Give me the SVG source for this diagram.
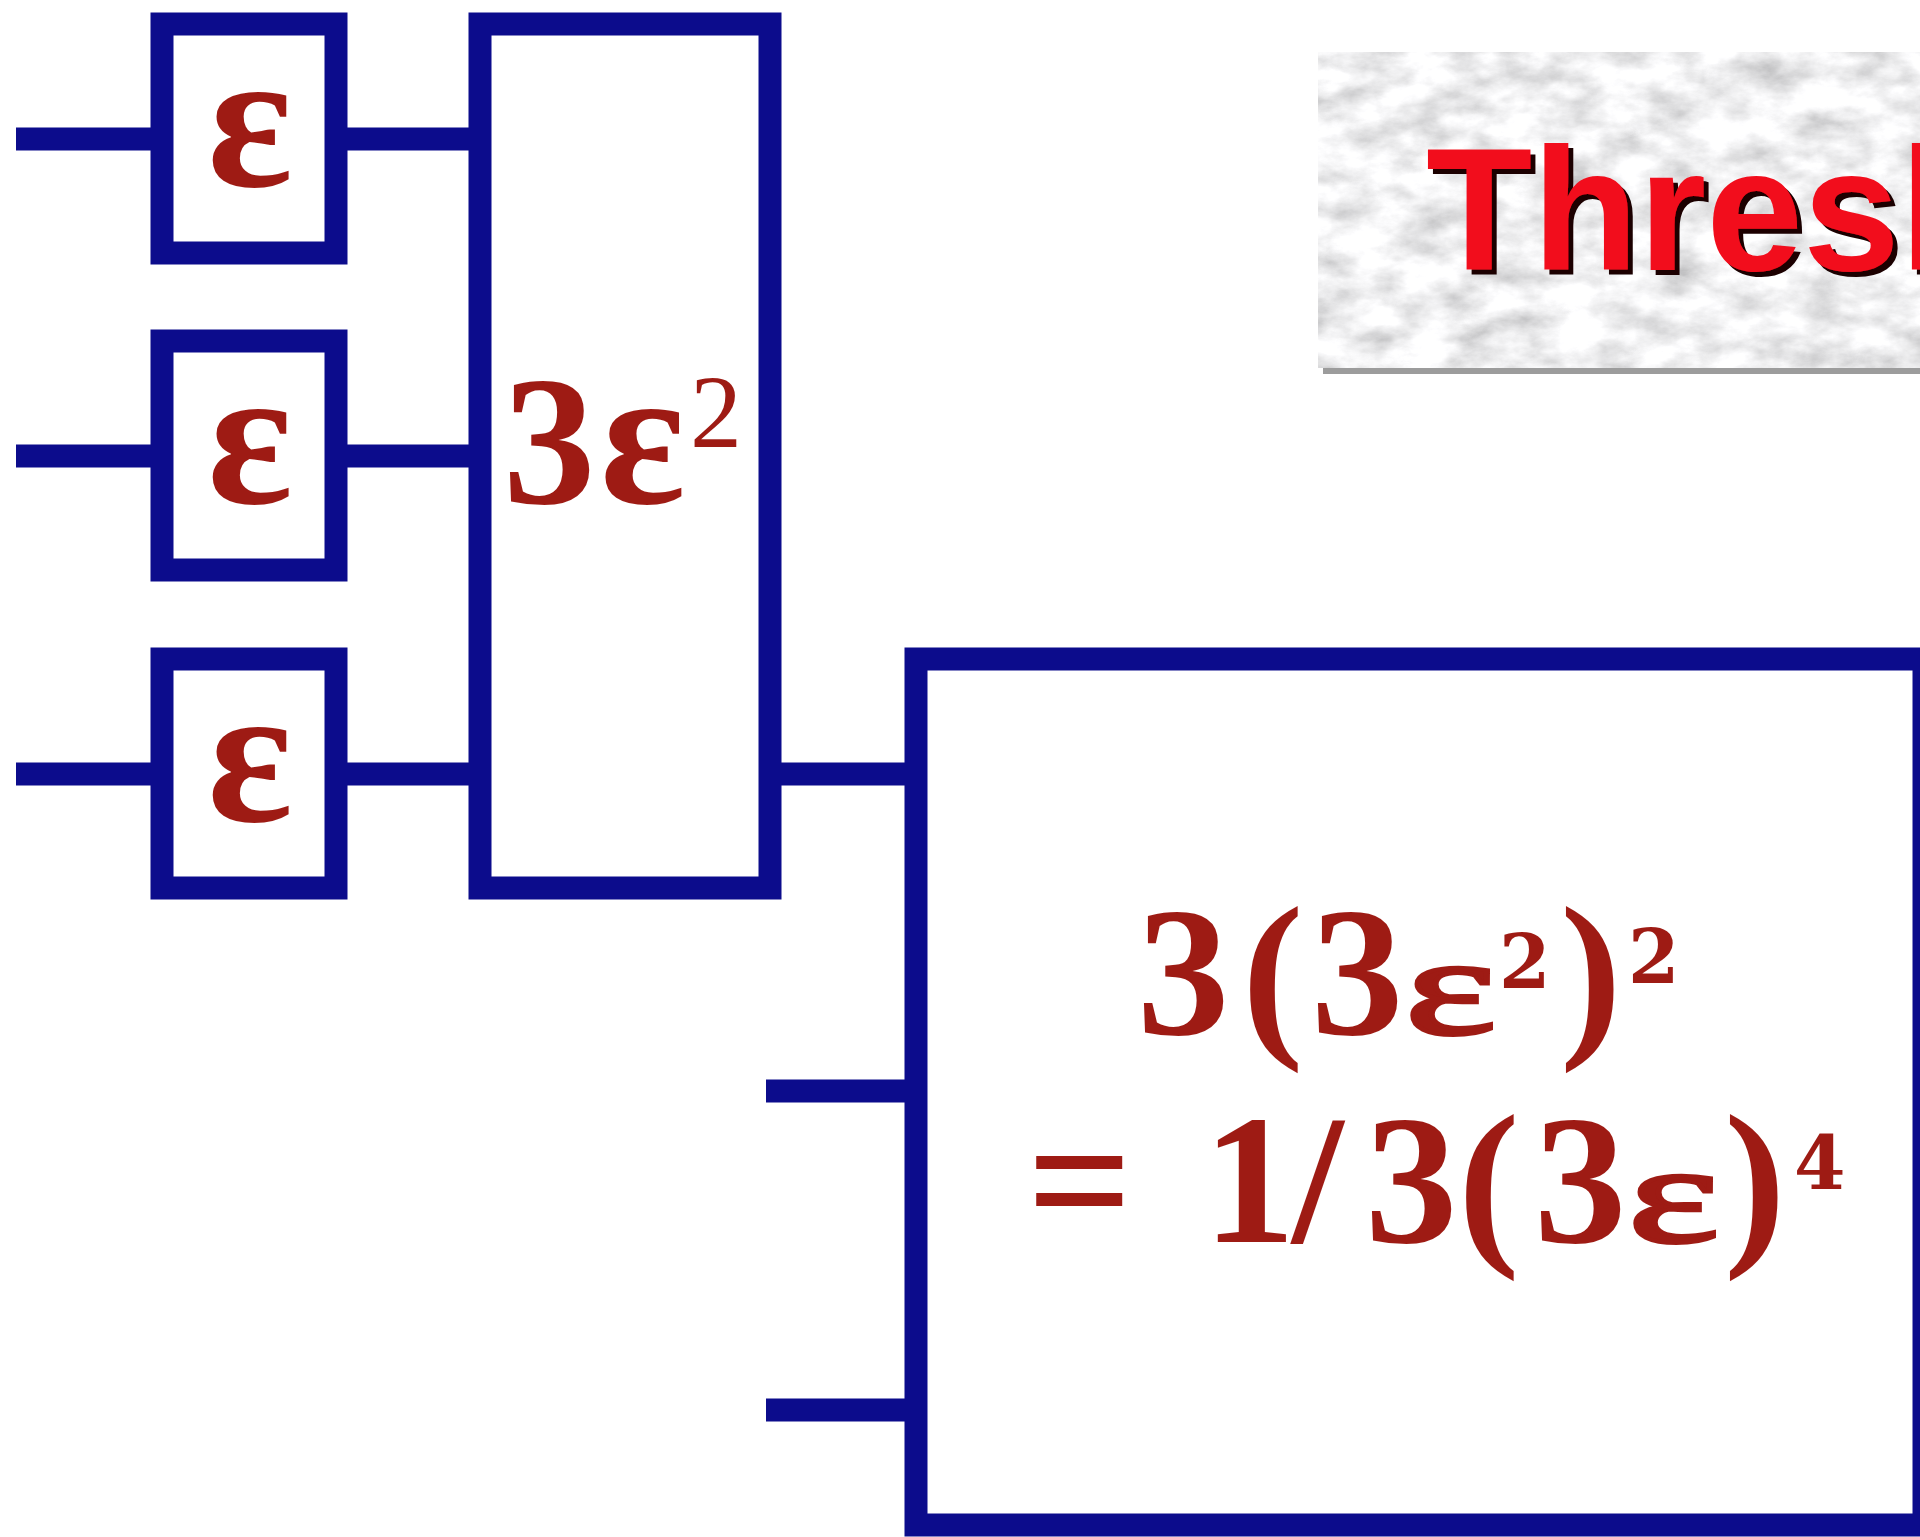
<svg xmlns="http://www.w3.org/2000/svg" width="1920" height="1537" viewBox="0 0 1920 1537">
<defs>
<style>
.wire{stroke:#0c0c8c;stroke-width:23;fill:none}
.box{fill:#ffffff;stroke:#0c0c8c;stroke-width:23}
.t{font-family:"Liberation Serif","Times New Roman",serif;font-weight:bold;fill:#9e1b14}
.f{font-family:"Liberation Serif","Times New Roman",serif;font-weight:bold;fill:#9e1b14;font-size:185px}
.eps{font-family:"Liberation Serif","Times New Roman",serif;font-weight:normal;fill:#9e1b14;stroke:#9e1b14;stroke-width:4;font-size:140px}
.sup{font-family:"DejaVu Serif",serif;font-weight:bold;fill:#9e1b14;font-size:74px}
.title{font-family:"Liberation Sans",Arial,sans-serif;font-weight:bold;font-size:174px;fill:#f2101e}
</style>
<filter id="marble" x="0" y="0" width="100%" height="100%" filterUnits="objectBoundingBox">
<feTurbulence type="fractalNoise" baseFrequency="0.02 0.035" numOctaves="6" seed="11" result="n"/>
<feColorMatrix in="n" type="matrix" values="0.85 0 0 0 0.45  0.85 0 0 0 0.45  0.85 0 0 0 0.46  0 0 0 0 1"/>
</filter>
<filter id="shadow" x="-5%" y="-10%" width="115%" height="125%">
<feOffset in="SourceAlpha" dx="5" dy="5" result="o"/>
<feFlood flood-color="#1a0505"/>
<feComposite in2="o" operator="in" result="s"/>
<feMerge><feMergeNode in="s"/><feMergeNode in="SourceGraphic"/></feMerge>
</filter>
</defs>
<rect width="1920" height="1537" fill="#ffffff"/>

<g id="connectors">
<line class="wire" x1="16" y1="139" x2="162" y2="139"/>
<line class="wire" x1="16" y1="456" x2="162" y2="456"/>
<line class="wire" x1="16" y1="774" x2="162" y2="774"/>
<line class="wire" x1="336" y1="139" x2="480" y2="139"/>
<line class="wire" x1="336" y1="456" x2="480" y2="456"/>
<line class="wire" x1="336" y1="774" x2="480" y2="774"/>
<line class="wire" x1="770" y1="774" x2="916" y2="774"/>
<line class="wire" x1="766" y1="1091" x2="916" y2="1091"/>
<line class="wire" x1="766" y1="1410" x2="916" y2="1410"/>
</g>

<g id="eps1">
<rect class="box" x="162" y="24" width="174" height="229"/>
<text class="t" x="250" y="186" font-size="200" text-anchor="middle">ε</text>
</g>
<g id="eps2">
<rect class="box" x="162" y="341" width="174" height="229"/>
<text class="t" x="250" y="503" font-size="200" text-anchor="middle">ε</text>
</g>
<g id="eps3">
<rect class="box" x="162" y="659" width="174" height="229"/>
<text class="t" x="250" y="821" font-size="200" text-anchor="middle">ε</text>
</g>

<g id="stage1">
<rect class="box" x="480" y="24" width="290" height="864"/>
<text class="t" y="503"><tspan x="503" font-size="185">3</tspan><tspan x="600" font-size="200">ε</tspan><tspan x="690" y="447" font-size="104" font-weight="normal">2</tspan></text>
</g>

<g id="stage2">
<rect class="box" x="916" y="659" width="1008" height="866"/>
<text class="f" y="1034"><tspan x="1137">3</tspan><tspan x="1242">(</tspan><tspan x="1311">3</tspan></text>
<text class="eps" transform="translate(1405,1034) scale(1.55,1)">ε</text>
<text class="sup" x="1499" y="988">2</text>
<text class="f" x="1560" y="1034">)</text>
<text class="sup" x="1628" y="983">2</text>
<text class="f" y="1242"><tspan x="1027">=</tspan><tspan x="1203">1</tspan><tspan x="1292">/</tspan><tspan x="1365">3</tspan><tspan x="1458">(</tspan><tspan x="1534">3</tspan></text>
<text class="eps" transform="translate(1628,1242) scale(1.55,1)">ε</text>
<text class="f" x="1724" y="1242">)</text>
<text class="sup" x="1794" y="1189">4</text>
</g>

<g id="title">
<rect x="1323" y="360" width="610" height="14" fill="#9c9c9c"/>
<rect x="1318" y="52" width="610" height="316" fill="#e0e0e0" filter="url(#marble)"/>
<text class="title" x="1426" y="270" filter="url(#shadow)">Thresh</text>
</g>
</svg>
